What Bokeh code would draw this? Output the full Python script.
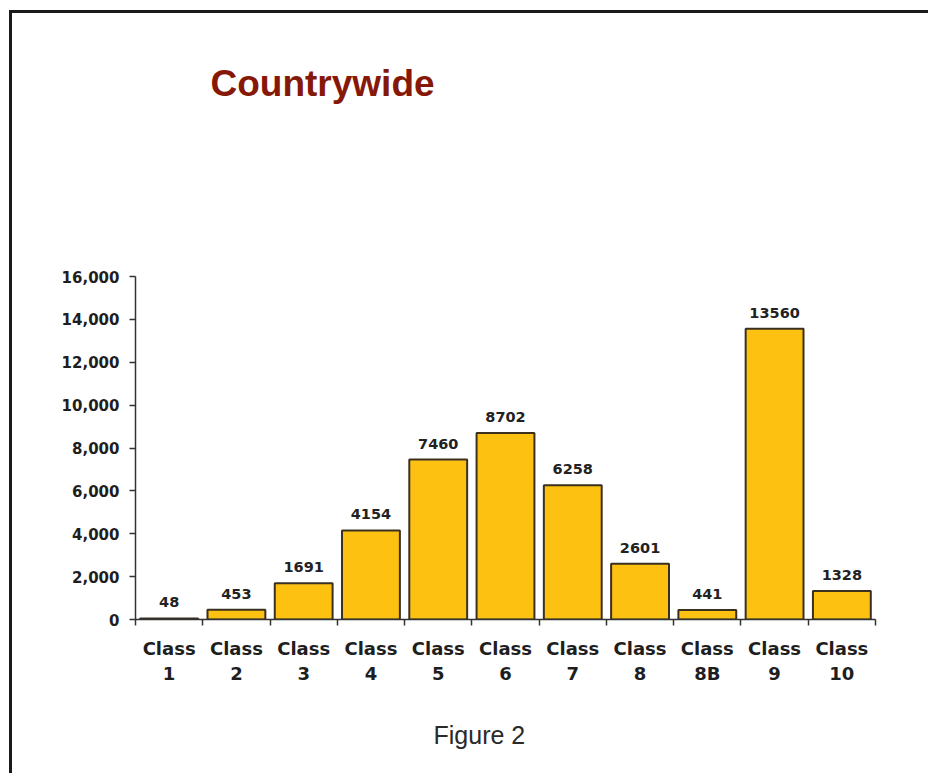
from bokeh.plotting import figure
from bokeh.models import (ColumnDataSource, FixedTicker, NumeralTickFormatter,
                          Title, Range1d)
from bokeh.core.properties import value
from bokeh.embed import file_html
from bokeh.resources import INLINE

# ---- data ----
categories = ["Class\n1", "Class\n2", "Class\n3", "Class\n4", "Class\n5", "Class\n6",
              "Class\n7", "Class\n8", "Class\n8B", "Class\n9", "Class\n10"]
counts = [48, 453, 1691, 4154, 7460, 8702, 6258, 2601, 441, 13560, 1328]
y_ticks = [0, 2000, 4000, 6000, 8000, 10000, 12000, 14000, 16000]
title_text = "Countrywide"
caption_text = "Figure 2"

n = len(categories)
centers = [i + 0.5 for i in range(n)]
boundaries = [i for i in range(n + 1)]

src = ColumnDataSource(dict(x=centers, top=counts, label=[str(c) for c in counts]))

p = figure(width=919, height=763, output_backend="svg", toolbar_location=None,
           x_range=Range1d(0, n), y_range=Range1d(0, 16000),
           min_border_left=123, min_border_right=56,
           min_border_top=263, min_border_bottom=157,
           margin=(10, 0, 0, 9))
p.styles = {"border-left": "3px solid #1a1a1a", "border-top": "3.5px solid #1a1a1a"}
p.background_fill_color = "white"
p.border_fill_color = "white"
p.outline_line_color = None
p.xgrid.visible = False
p.ygrid.visible = False

p.vbar(x="x", top="top", bottom=0, width=0.86, source=src,
       fill_color="#FDC112", line_color="#3A3020", line_width=2)

p.text(x="x", y="top", text="label", source=src, text_align="center",
       text_baseline="bottom", y_offset=-11, text_font=value("DejaVu Sans"),
       text_font_style="bold", text_font_size="14.5px", text_color="#222222")

# x axis: ticks at category boundaries, labels at centers
xa = p.xaxis[0]
xa.ticker = FixedTicker(ticks=centers, minor_ticks=boundaries)
xa.major_label_overrides = {c: lab for c, lab in zip(centers, categories)}
xa.major_tick_out = 0
xa.major_tick_in = 0
xa.minor_tick_out = 6
xa.minor_tick_in = 0
xa.minor_tick_line_color = "#333333"
xa.minor_tick_line_width = 1.5
xa.axis_line_color = "#333333"
xa.axis_line_width = 1.5
xa.major_label_standoff = 12
xa.major_label_text_font = "DejaVu Sans"
xa.major_label_text_font_style = "bold"
xa.major_label_text_font_size = "18px"
xa.major_label_text_color = "#1e1e1e"
xa.major_label_text_line_height = 1.2

ya = p.yaxis[0]
ya.ticker = FixedTicker(ticks=y_ticks, minor_ticks=[])
ya.formatter = NumeralTickFormatter(format="0,0")
ya.major_tick_out = 6
ya.major_tick_in = 0
ya.major_tick_line_color = "#333333"
ya.major_tick_line_width = 1.5
ya.axis_line_color = "#333333"
ya.axis_line_width = 1.5
ya.major_label_standoff = 10
ya.major_label_text_font = "DejaVu Sans"
ya.major_label_text_font_style = "bold"
ya.major_label_text_font_size = "15px"
ya.major_label_text_color = "#1e1e1e"

# spacer between frame and title (keeps the title high without growing the panel)
p.add_layout(Title(text=" ", standoff=170, text_font_size="1px"), "above")

# title
p.title.text = title_text
p.title.align = "left"
p.title.offset = 75
p.title.standoff = 0
p.title.text_font = "Liberation Sans"
p.title.text_font_style = "bold"
p.title.text_font_size = "37px"
p.title.text_color = "#861808"

# spacer between the x axis and the caption, then the caption
p.add_layout(Title(text=" ", standoff=29, text_font_size="1px"), "below")
p.add_layout(Title(text=caption_text, align="left", offset=298, standoff=0,
                   text_font="Liberation Sans", text_font_style="normal",
                   text_font_size="25px", text_color="#2a2a2a"), "below")

open("out.html", "w").write(file_html(p, INLINE))
